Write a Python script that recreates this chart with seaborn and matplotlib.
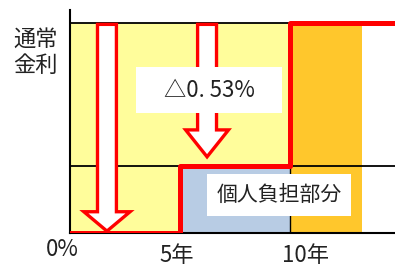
import matplotlib
matplotlib.use("Agg")
import matplotlib.pyplot as plt
from matplotlib.patches import FancyArrow, Rectangle
import seaborn as sns
import numpy as np

# ---- data ----
normal_rate = 0.78          # 通常金利 (%)
personal_rate = 0.25        # 個人負担部分 (%)
reduction_label = "△0. 53%"

step_years = [0, 5, 10, 15]
step_rates = [0.0, personal_rate, normal_rate, normal_rate]

region_start = [0, 10, 5]
region_end = [10, 13.27, 10]
region_top = [normal_rate, normal_rate, personal_rate]
region_colors = ["#FFFD9B", "#FFC72C", "#B8CCE4"]

xtick_pos = [4.85, 10.7]
xtick_labels = ["5年", "10年"]

sns.set_style("white")
plt.rcParams["font.family"] = ["Noto Sans CJK JP", "DejaVu Sans"]
txt_color = "#222222"

fig = plt.figure(figsize=(3.95, 2.66), dpi=100)
ax = fig.add_axes([70/395, 33/266, 325/395, 223/266])
ax.set_xlim(0, 325/22)
ax.set_ylim(0, 223/269.2)

# filled regions
for s, e, t, c in zip(region_start, region_end, region_top, region_colors):
    ec = "black" if c == "#B8CCE4" else "none"
    ax.bar(s, t, width=e - s, align="edge", color=c, edgecolor=ec, linewidth=1.0, zorder=1)

# horizontal reference lines
ax.axhline(personal_rate, color="black", lw=1.3, zorder=2)
ax.plot([0, 10], [normal_rate, normal_rate], color="black", lw=1.3, zorder=2)

# arrows
a1 = FancyArrow(1.68, normal_rate - 0.005, 0, -(normal_rate - 0.012), width=0.86,
                head_width=2.1, head_length=0.072, length_includes_head=True,
                fc="white", ec="red", lw=2.4, zorder=3)
ax.add_patch(a1)
a2 = FancyArrow(6.23, normal_rate - 0.005, 0, -(normal_rate - 0.005 - 0.283), width=0.86,
                head_width=1.95, head_length=0.1, length_includes_head=True,
                fc="white", ec="red", lw=2.4, zorder=3)
ax.add_patch(a2)

# step line
sns.lineplot(x=step_years, y=step_rates, drawstyle="steps-post", color="red",
             lw=3.6, ax=ax, zorder=4, legend=False, sort=False)

# label boxes
ax.add_patch(Rectangle((3.0, 0.446), 6.64, 0.171, fc="white", ec="none", zorder=5))
ax.text(6.32, 0.531, reduction_label, ha="center", va="center", fontsize=16,
        color=txt_color, zorder=6)
ax.add_patch(Rectangle((6.23, 0.063), 6.54, 0.156, fc="white", ec="none", zorder=5))
ax.text(9.5, 0.141, "個人負担部分", ha="center", va="center", fontsize=15,
        color=txt_color, zorder=6)

# axis labels as text
ax.text(-0.36, -0.06, "0%", ha="center", va="center", fontsize=16, color=txt_color, clip_on=False)
for xp, lab in zip(xtick_pos, xtick_labels):
    ax.text(xp, -0.085, lab, ha="center", va="center", fontsize=16, color=txt_color, clip_on=False)
ax.text(-1.55, 0.672, "通常\n金利", ha="center", va="center", fontsize=16,
        color=txt_color, linespacing=1.2, clip_on=False)

ax.set_xticks([])
ax.set_yticks([])
ax.set_xlabel("")
ax.set_ylabel("")
for side in ["top", "right"]:
    ax.spines[side].set_visible(False)
for side in ["left", "bottom"]:
    ax.spines[side].set_color("black")
    ax.spines[side].set_linewidth(1.5)

fig.savefig("out.png", dpi=100)
